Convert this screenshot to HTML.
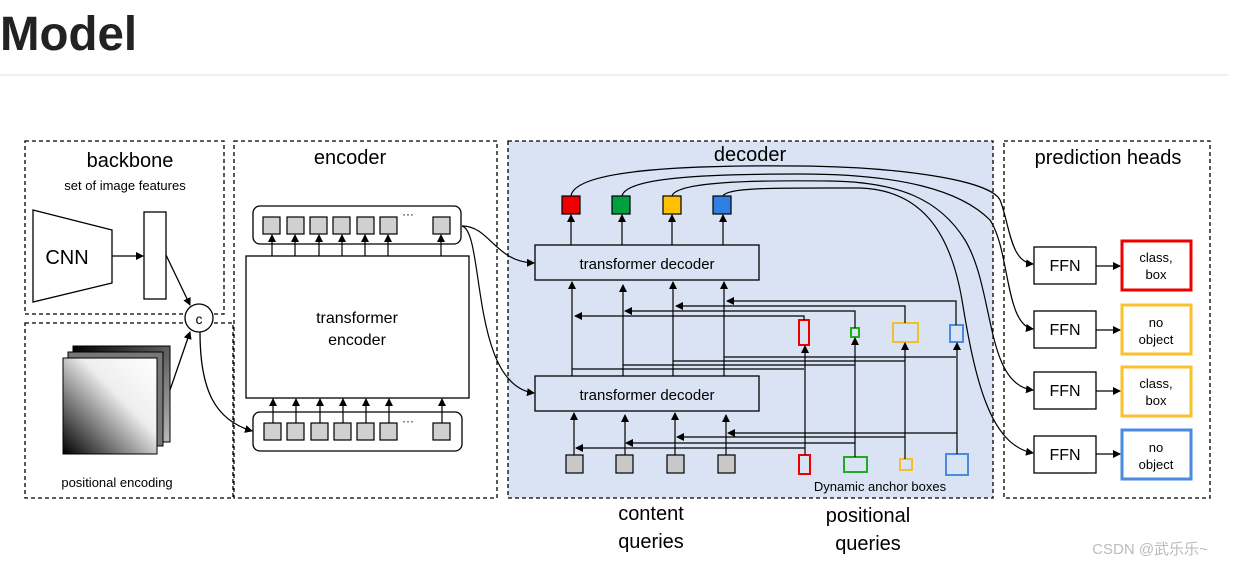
<!DOCTYPE html>
<html><head><meta charset="utf-8"><style>
html,body{margin:0;padding:0;background:#fff;width:1236px;height:567px;overflow:hidden}
svg{display:block}
text{font-family:"Liberation Sans","Noto Sans CJK SC",sans-serif}
</style></head><body>
<svg width="1236" height="567" viewBox="0 0 1236 567" xmlns="http://www.w3.org/2000/svg">
<defs>
<marker id="a" markerWidth="8" markerHeight="8" refX="7" refY="4" orient="auto" markerUnits="userSpaceOnUse"><path d="M0,0 L8,4 L0,8z" fill="#000"/></marker>
<linearGradient id="g" x1="0" y1="1" x2="1" y2="0"><stop offset="0" stop-color="#000"/><stop offset="0.6" stop-color="#eee"/><stop offset="1" stop-color="#fff"/></linearGradient>
<linearGradient id="g2" x1="0" y1="0" x2="1" y2="1"><stop offset="0" stop-color="#000"/><stop offset="1" stop-color="#bbb"/></linearGradient>
</defs>
<text x="0" y="50" font-size="48" font-weight="bold" fill="#222" textLength="137" lengthAdjust="spacingAndGlyphs">Model</text>
<line x1="0" y1="75" x2="1228" y2="75" stroke="#e2e2e2" stroke-width="1"/>

<g fill="none" stroke="#000" stroke-width="1.3" stroke-dasharray="4,3">
<rect x="25" y="141" width="199" height="173"/>
<rect x="25" y="323" width="208" height="175"/>
<rect x="234" y="141" width="263" height="357"/>
<rect x="508" y="141" width="485" height="357" fill="#dae3f3"/>
<rect x="1004" y="141" width="206" height="357"/>
</g>
<text x="130" y="167" font-size="20" text-anchor="middle">backbone</text>
<text x="125" y="190" font-size="13" text-anchor="middle">set of image features</text>
<text x="350" y="164" font-size="20" text-anchor="middle">encoder</text>
<text x="750" y="161" font-size="20" text-anchor="middle">decoder</text>
<text x="1108" y="164" font-size="20" text-anchor="middle">prediction heads</text>
<text x="117" y="487" font-size="13" text-anchor="middle">positional encoding</text>

<g stroke="#000" stroke-width="1.3" fill="none">
<polygon points="33,210 112,230 112,283 33,302" fill="#fff"/>
<rect x="144" y="212" width="22" height="87" fill="#fff"/>
<line x1="112" y1="256" x2="143" y2="256" marker-end="url(#a)"/>
<line x1="166" y1="255" x2="190" y2="305" marker-end="url(#a)"/>
<line x1="170" y1="390" x2="190" y2="332" marker-end="url(#a)"/>
<circle cx="199" cy="318" r="14" fill="#fff"/>
<path d="M200,332 C200,390 215,420 252,431" marker-end="url(#a)"/>
</g>
<text x="67" y="264" font-size="20" text-anchor="middle">CNN</text>
<text x="199" y="324" font-size="14" text-anchor="middle">c</text>
<rect x="73" y="346" width="97" height="96" fill="url(#g2)" stroke="#000"/>
<rect x="68" y="352" width="95" height="94" fill="#777" stroke="#000"/>
<rect x="63" y="358" width="94" height="96" fill="url(#g)" stroke="#000"/>

<g stroke="#000" stroke-width="1.3">
<rect x="253" y="206" width="208" height="38" rx="7" fill="#fff"/>
<rect x="253" y="412" width="209" height="39" rx="7" fill="#fff"/>
<rect x="246" y="256" width="223" height="142" fill="#fff"/>
</g>
<g fill="#d0d0d0" stroke="#000" stroke-width="1.2">
<rect x="263" y="217" width="17" height="17"/><rect x="287" y="217" width="17" height="17"/><rect x="310" y="217" width="17" height="17"/><rect x="333" y="217" width="17" height="17"/><rect x="357" y="217" width="17" height="17"/><rect x="380" y="217" width="17" height="17"/><rect x="433" y="217" width="17" height="17"/>
<rect x="264" y="423" width="17" height="17"/><rect x="287" y="423" width="17" height="17"/><rect x="311" y="423" width="17" height="17"/><rect x="334" y="423" width="17" height="17"/><rect x="357" y="423" width="17" height="17"/><rect x="380" y="423" width="17" height="17"/><rect x="433" y="423" width="17" height="17"/>
</g>
<text x="408" y="218" font-size="12" text-anchor="middle">···</text>
<text x="408" y="425" font-size="12" text-anchor="middle">···</text>
<g stroke="#000" stroke-width="1.2" marker-end="url(#a)">
<line x1="272" y1="256" x2="272" y2="235"/><line x1="295" y1="256" x2="295" y2="235"/><line x1="319" y1="256" x2="319" y2="235"/><line x1="342" y1="256" x2="342" y2="235"/><line x1="365" y1="256" x2="365" y2="235"/><line x1="388" y1="256" x2="388" y2="235"/><line x1="441" y1="256" x2="441" y2="235"/>
<line x1="273" y1="423" x2="273" y2="399"/><line x1="296" y1="423" x2="296" y2="399"/><line x1="320" y1="423" x2="320" y2="399"/><line x1="343" y1="423" x2="343" y2="399"/><line x1="366" y1="423" x2="366" y2="399"/><line x1="389" y1="423" x2="389" y2="399"/><line x1="442" y1="423" x2="442" y2="399"/>
</g>
<text x="357" y="323" font-size="16" text-anchor="middle">transformer</text>
<text x="357" y="345" font-size="16" text-anchor="middle">encoder</text>
<g fill="none" stroke="#000" stroke-width="1.2">
<path d="M462,226 C490,226 495,262 534,263" marker-end="url(#a)"/>
<path d="M462,226 C485,232 470,385 534,393" marker-end="url(#a)"/>
</g>

<g stroke="#000" stroke-width="1.3" fill="#dae3f3">
<rect x="535" y="245" width="224" height="35"/>
<rect x="535" y="376" width="224" height="35"/>
</g>
<text x="647" y="269" font-size="15" text-anchor="middle">transformer decoder</text>
<text x="647" y="400" font-size="15" text-anchor="middle">transformer decoder</text>
<g stroke="#000" stroke-width="1.2">
<rect x="562" y="196" width="18" height="18" fill="#ee0000"/>
<rect x="612" y="196" width="18" height="18" fill="#00a040"/>
<rect x="663" y="196" width="18" height="18" fill="#ffc000"/>
<rect x="713" y="196" width="18" height="18" fill="#2f80e0"/>
<rect x="566" y="455" width="17" height="18" fill="#c8c8c8"/>
<rect x="616" y="455" width="17" height="18" fill="#c8c8c8"/>
<rect x="667" y="455" width="17" height="18" fill="#c8c8c8"/>
<rect x="718" y="455" width="17" height="18" fill="#c8c8c8"/>
</g>
<g fill="none" stroke-width="2">
<rect x="799" y="320" width="10" height="25" stroke="#e00"/>
<rect x="851" y="328" width="8" height="9" stroke="#2a2"/>
<rect x="893" y="323" width="25" height="19" stroke="#f0c030"/>
<rect x="950" y="325" width="13" height="17" stroke="#4a8ae0"/>
<rect x="799" y="455" width="11" height="19" stroke="#e00"/>
<rect x="844" y="457" width="23" height="15" stroke="#2a2"/>
<rect x="900" y="459" width="12" height="11" stroke="#f0c030"/>
<rect x="946" y="454" width="22" height="21" stroke="#4a8ae0"/>
</g>
<g stroke="#000" stroke-width="1.2" fill="none">
<line x1="571" y1="245" x2="571" y2="215" marker-end="url(#a)"/>
<line x1="622" y1="245" x2="622" y2="215" marker-end="url(#a)"/>
<line x1="672" y1="245" x2="672" y2="215" marker-end="url(#a)"/>
<line x1="723" y1="245" x2="723" y2="215" marker-end="url(#a)"/>
<line x1="572" y1="376" x2="572" y2="282" marker-end="url(#a)"/>
<line x1="623" y1="376" x2="623" y2="285" marker-end="url(#a)"/>
<line x1="673" y1="376" x2="673" y2="282" marker-end="url(#a)"/>
<line x1="724" y1="376" x2="724" y2="282" marker-end="url(#a)"/>
<line x1="574" y1="455" x2="574" y2="413" marker-end="url(#a)"/>
<line x1="625" y1="455" x2="625" y2="415" marker-end="url(#a)"/>
<line x1="675" y1="455" x2="675" y2="413" marker-end="url(#a)"/>
<line x1="726" y1="455" x2="726" y2="415" marker-end="url(#a)"/>
<polyline points="956,325 956,301 727,301" marker-end="url(#a)"/>
<polyline points="905,323 905,306 676,306" marker-end="url(#a)"/>
<polyline points="855,328 855,311 625,311" marker-end="url(#a)"/>
<polyline points="804,320 804,316 575,316" marker-end="url(#a)"/>
<line x1="956" y1="357" x2="724" y2="357"/>
<line x1="905" y1="361" x2="673" y2="361"/>
<line x1="855" y1="365" x2="623" y2="365"/>
<line x1="804" y1="369" x2="572" y2="369"/>
<line x1="805" y1="455" x2="805" y2="346" marker-end="url(#a)"/>
<line x1="855" y1="457" x2="855" y2="338" marker-end="url(#a)"/>
<line x1="905" y1="459" x2="905" y2="343" marker-end="url(#a)"/>
<line x1="957" y1="454" x2="957" y2="343" marker-end="url(#a)"/>
<line x1="957" y1="433" x2="728" y2="433" marker-end="url(#a)"/>
<line x1="905" y1="437" x2="677" y2="437" marker-end="url(#a)"/>
<line x1="855" y1="443" x2="626" y2="443" marker-end="url(#a)"/>
<line x1="805" y1="448" x2="576" y2="448" marker-end="url(#a)"/>
<path d="M571,196 C575,168 700,165 800,166 C900,167 990,180 1000,200 C1010,225 1010,262 1033,264" marker-end="url(#a)"/>
<path d="M622,196 C626,178 700,174 800,174 C900,174 960,190 990,220 C1010,250 1005,325 1033,329" marker-end="url(#a)"/>
<path d="M672,196 C676,182 750,180 830,181 C900,182 940,200 965,240 C995,290 985,385 1033,390" marker-end="url(#a)"/>
<path d="M723,196 C727,187 780,188 860,188 C920,190 950,230 962,300 C975,380 990,445 1033,453" marker-end="url(#a)"/>
</g>
<text x="880" y="491" font-size="13" text-anchor="middle">Dynamic anchor boxes</text>
<text x="651" y="520" font-size="20" text-anchor="middle">content</text>
<text x="651" y="548" font-size="20" text-anchor="middle">queries</text>
<text x="868" y="522" font-size="20" text-anchor="middle">positional</text>
<text x="868" y="550" font-size="20" text-anchor="middle">queries</text>

<g stroke="#000" stroke-width="1.3" fill="#fff">
<rect x="1034" y="247" width="62" height="37"/>
<rect x="1034" y="311" width="62" height="37"/>
<rect x="1034" y="372" width="62" height="37"/>
<rect x="1034" y="436" width="62" height="37"/>
</g>
<g fill="#fff" stroke-width="3">
<rect x="1122" y="241" width="69" height="49" stroke="#e00"/>
<rect x="1122" y="305" width="69" height="49" stroke="#fbc02d"/>
<rect x="1122" y="367" width="69" height="49" stroke="#fbc02d"/>
<rect x="1122" y="430" width="69" height="49" stroke="#4a8ae0"/>
</g>
<g stroke="#000" stroke-width="1.2" marker-end="url(#a)">
<line x1="1096" y1="266" x2="1120" y2="266"/>
<line x1="1096" y1="330" x2="1120" y2="330"/>
<line x1="1096" y1="391" x2="1120" y2="391"/>
<line x1="1096" y1="454" x2="1120" y2="454"/>
</g>
<g font-size="16" text-anchor="middle">
<text x="1065" y="271">FFN</text><text x="1065" y="335">FFN</text><text x="1065" y="396">FFN</text><text x="1065" y="460">FFN</text>
</g>
<g font-size="13" text-anchor="middle">
<text x="1156" y="262">class,</text><text x="1156" y="279">box</text>
<text x="1156" y="327">no</text><text x="1156" y="344">object</text>
<text x="1156" y="388">class,</text><text x="1156" y="405">box</text>
<text x="1156" y="452">no</text><text x="1156" y="469">object</text>
</g>
<text x="1150" y="554" font-size="15" fill="#bbb" text-anchor="middle">CSDN @武乐乐~</text>
</svg>
</body></html>
